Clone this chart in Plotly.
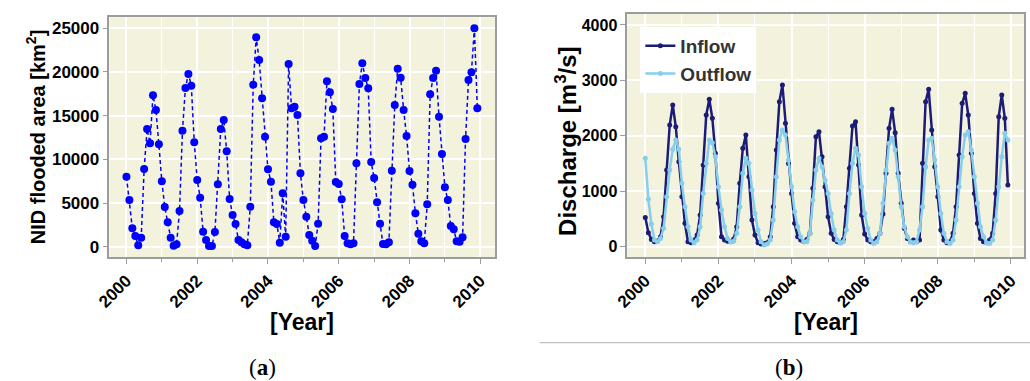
import plotly.graph_objects as go

# ---------------- data ----------------
years_start = 2000
n_months = 120
months = list(range(n_months))
time_axis = [years_start + m / 12 for m in months]

nid_area = [
    8016, 5344, 2100, 1221, 153, 1030, 8894, 13474, 11833, 17330, 15650, 11718,
    7481, 4542, 2786, 1030, 115, 267, 4084, 13283, 18169, 19772, 18436, 11947,
    7634, 5611, 1718, 763, 76, 76, 1679, 7138, 13474, 14505, 10916, 5458,
    3626, 2596, 763, 496, 267, 153, 4580, 18551, 23971, 21375, 16985, 12596,
    8856, 7443, 2786, 2596, 458, 6107, 1145, 20917, 15841, 16032, 15078, 8398,
    5344, 3435, 1336, 687, 76, 2634, 12405, 12596, 18932, 17673, 15764, 7405,
    7176, 5420, 1221, 382, 267, 382, 9543, 18627, 20994, 19314, 18131, 9695,
    7863, 5077, 2634, 305, 267, 496, 8703, 16222, 20383, 19352, 15650, 12672,
    8665, 7100, 3817, 1489, 611, 382, 4847, 17444, 19314, 20154, 14887, 10611,
    6794, 5344, 2367, 1985, 611, 573, 1069, 12329, 19085, 19963, 25001, 15841,
]

inflow = [
    529, 253, 132, 90, 102, 180, 541, 1383, 2195, 2556, 2165, 1534,
    902, 421, 90, 72, 120, 210, 571, 1474, 2376, 2659, 2316, 1684,
    782, 180, 120, 100, 90, 140, 361, 1143, 1774, 2015, 1263, 481,
    211, 72, 48, 60, 72, 180, 722, 1745, 2617, 2917, 2226, 1500,
    962, 421, 180, 120, 90, 132, 241, 1053, 1985, 2075, 1624, 1083,
    541, 241, 132, 90, 72, 132, 722, 1414, 2177, 2256, 1474, 571,
    229, 120, 90, 90, 150, 241, 589, 1323, 2135, 2478, 2057, 1323,
    782, 331, 150, 90, 120, 90, 120, 1504, 2617, 2839, 2105, 1444,
    902, 301, 120, 72, 90, 241, 722, 1654, 2586, 2767, 2376, 1684,
    962, 421, 150, 90, 72, 120, 241, 962, 2346, 2737, 2316, 1113,
]

outflow = [
    1594, 854, 409, 120, 90, 150, 331, 902, 1383, 1756, 1925, 1756,
    1143, 722, 361, 120, 72, 120, 361, 962, 1504, 1925, 1877, 1624,
    1083, 662, 361, 150, 90, 100, 241, 722, 1323, 1594, 1504, 1023,
    601, 301, 90, 30, 48, 120, 481, 1263, 1925, 2105, 2015, 1564,
    1083, 631, 361, 180, 90, 90, 241, 842, 1383, 1594, 1444, 1200,
    962, 601, 301, 120, 72, 90, 301, 962, 1504, 1774, 1654, 1083,
    601, 331, 120, 60, 90, 241, 782, 1383, 1865, 1955, 1744, 1263,
    722, 361, 180, 90, 72, 90, 301, 722, 1444, 1925, 1955, 1564,
    1083, 601, 241, 90, 60, 120, 481, 1083, 1624, 2015, 2075, 1744,
    1263, 782, 361, 180, 72, 60, 120, 481, 1083, 1624, 2045, 1925,
]

x_ticks = [2000, 2002, 2004, 2006, 2008, 2010]
x_tick_text = ["2000", "2002", "2004", "2006", "2008", "2010"]
left_y_ticks = [0, 5000, 10000, 15000, 20000, 25000]
left_y_tick_text = ["0", "5000", "10000", "15000", "20000", "25000"]
right_y_ticks = [0, 1000, 2000, 3000, 4000]
right_y_tick_text = ["0", "1000", "2000", "3000", "4000"]

# ---------------- styles ----------------
W, H = 1030, 381
BG = "#F3F2DC"
AXIS_GRAY = "#9C9C9C"
FONT = "Liberation Sans"

def px_x(p):
    return p / W

def px_y(p):
    return 1 - p / H

fig = go.Figure()

fig.add_trace(go.Scatter(
    x=time_axis, y=nid_area, mode="lines+markers",
    line=dict(color="#0000FF", width=1.5, dash="4px,3px"),
    marker=dict(color="#0000FF", size=8),
    showlegend=False, xaxis="x", yaxis="y",
))

fig.add_trace(go.Scatter(
    x=time_axis, y=inflow, mode="lines+markers", name="Inflow",
    line=dict(color="#1C1C78", width=2.5),
    marker=dict(color="#1C1C78", size=5),
    xaxis="x2", yaxis="y2",
))
fig.add_trace(go.Scatter(
    x=time_axis, y=outflow, mode="lines+markers", name="Outflow",
    line=dict(color="#87CEEB", width=2.5),
    marker=dict(color="#87CEEB", size=5),
    xaxis="x2", yaxis="y2",
))

common_x = dict(
    tickmode="array", tickvals=x_ticks, ticktext=x_tick_text,
    tickangle=-45, tickfont=dict(family=FONT, size=17, color="black", weight="bold"),
    showgrid=True, gridcolor="white", gridwidth=1.5,
    minor=dict(dtick=1, tick0=2001, showgrid=True, gridcolor="white", gridwidth=0.8,
               ticks="outside", ticklen=3, tickcolor=AXIS_GRAY),
    showline=True, linecolor=AXIS_GRAY, linewidth=1.5, mirror=True,
    ticks="outside", ticklen=5, tickcolor=AXIS_GRAY, tickwidth=1.2,
    zeroline=False,
)
common_y = dict(
    tickmode="array",
    showgrid=True, gridcolor="white", gridwidth=1.5,
    showline=True, linecolor=AXIS_GRAY, linewidth=1.5, mirror=True,
    ticks="outside", ticklen=5, tickcolor=AXIS_GRAY, tickwidth=1.2,
    zeroline=False,
)

fig.update_layout(
    width=W, height=H, autosize=False,
    margin=dict(l=0, r=0, t=0, b=0),
    paper_bgcolor="white", plot_bgcolor=BG,
    font=dict(family=FONT, color="black"),
    xaxis=dict(domain=[px_x(96.7), px_x(487.7)], range=[1999.518, 2010.418],
               anchor="y", **common_x),
    yaxis=dict(domain=[px_y(257.3), px_y(17.3)], range=[-1213, 26259],
               anchor="x", tickvals=left_y_ticks, ticktext=left_y_tick_text,
               tickfont=dict(family=FONT, size=17, color="black", weight="bold"),
               **common_y),
    xaxis2=dict(domain=[px_x(621.7), px_x(1024)], range=[1999.506, 2010.36],
                anchor="y2", **common_x),
    yaxis2=dict(domain=[px_y(257.3), px_y(14)], range=[-191, 4198],
                anchor="x2", tickvals=right_y_ticks, ticktext=right_y_tick_text,
                tickfont=dict(family=FONT, size=16, color="black", weight="bold"),
                **common_y),
    legend=dict(
        x=px_x(635), y=px_y(27), xanchor="left", yanchor="top",
        bgcolor="white", borderwidth=0,
        font=dict(family=FONT, size=19, color="#333333", weight="bold"),
        itemwidth=30, tracegroupgap=0,
    ),
)

annotations = [
    dict(text="<b>NID flooded area [km<sup>2</sup>]</b>", x=px_x(22.5), y=px_y(137),
         textangle=-90, font=dict(size=20)),
    dict(text="<b>Discharge [m<sup>3</sup>/s]</b>", x=px_x(559.5), y=px_y(141),
         textangle=-90, font=dict(size=24)),
    dict(text="<b>[Year]</b>", x=px_x(292), y=px_y(322), font=dict(size=23)),
    dict(text="<b>[Year]</b>", x=px_x(823), y=px_y(322), font=dict(size=23)),
    dict(text="(<b>a</b>)", x=px_x(252), y=px_y(367),
         font=dict(size=23, family="Liberation Serif")),
    dict(text="(<b>b</b>)", x=px_x(786), y=px_y(367),
         font=dict(size=23, family="Liberation Serif")),
]
for a in annotations:
    a.update(xref="paper", yref="paper", showarrow=False,
             xanchor="center", yanchor="middle")
    a["font"].setdefault("family", FONT)
    a["font"]["color"] = "black"
fig.update_layout(annotations=annotations)

fig.add_shape(type="line", xref="paper", yref="paper",
              x0=px_x(533), x1=1, y0=px_y(342.7), y1=px_y(342.7),
              line=dict(color="#B0B0B0", width=1))

fig.write_html("out.html", config={"displayModeBar": False},
               post_script="document.body.style.margin='0';document.body.style.overflow='hidden';")
